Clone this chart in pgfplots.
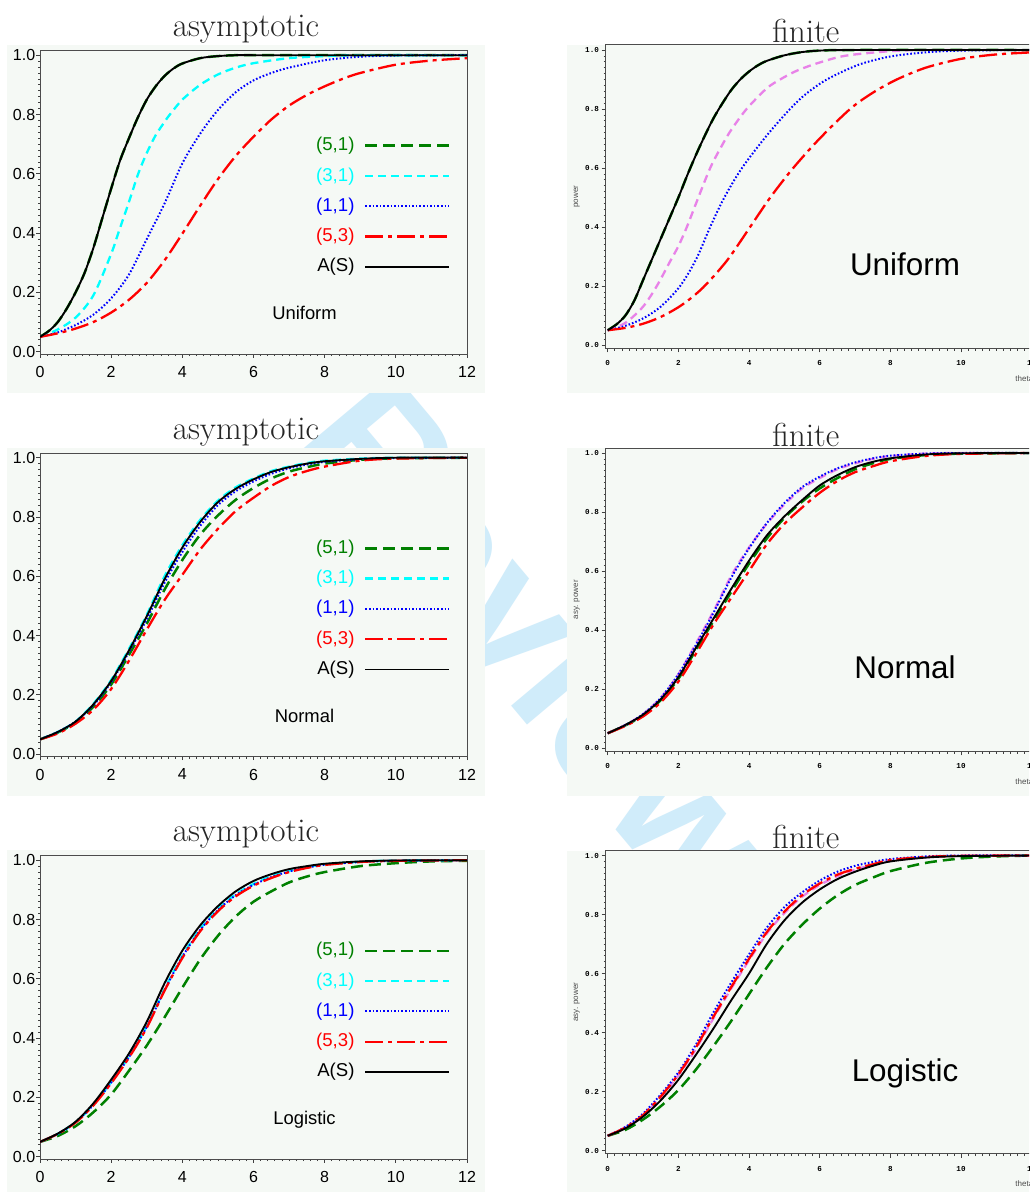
\documentclass[border=0pt]{standalone}
\usepackage{fontspec}
\usepackage{pgfplots}
\pgfplotsset{compat=1.18}
\newfontfamily\lsans{Liberation Sans}
\newfontfamily\lmono{Liberation Mono}
\definecolor{bgc}{RGB}{245,249,245}
\definecolor{sgreen}{RGB}{0,128,0}
\definecolor{scyan}{RGB}{0,255,255}
\definecolor{sblue}{RGB}{0,0,255}
\definecolor{sred}{RGB}{255,0,0}
\definecolor{sviolet}{RGB}{232,130,232}
\definecolor{wm}{RGB}{208,236,250}
\pgfplotsset{
  s51/.style={sgreen, line width=1.25pt, dash pattern=on 6pt off 3pt},
  s31/.style={scyan, line width=1.15pt, dash pattern=on 4pt off 2.5pt},
  s31f/.style={sviolet, line width=1.15pt, dash pattern=on 4pt off 2.5pt},
  s11/.style={sblue, line width=1pt, dash pattern=on 0.8pt off 1pt},
  s53/.style={sred, line width=1.15pt, dash pattern=on 9pt off 2.5pt on 2pt off 2.5pt},
  sAS/.style={black, line width=0.95pt},
  lax/.style={
    scale only axis, width=213.5pt, height=151.65pt,
    xmin=0, xmax=12, ymin=-0.0078, ymax=1.0152,
    xtick={0,2,4,6,8,10,12}, ytick={0,0.2,0.4,0.6,0.8,1},
    minor x tick num=9, minor y tick num=9,
    tick align=outside, tick pos=left,
    major tick length=1.8pt, minor tick length=1pt,
    every tick/.style={black!75, line width=0.4pt},
    axis line style={black!70, line width=0.5pt},
    /pgf/number format/assume math mode=true,
    tick label style={font=\lsans\fontsize{8}{9}\selectfont},
    yticklabel style={inner sep=0pt, xshift=-0.4pt, /pgf/number format/.cd, fixed, fixed zerofill, precision=1},
    xticklabel style={inner sep=0pt, yshift=-4.2pt},
    legend style={draw=none, fill=none, at={(0.9617,0.7163)}, anchor=north east,
      inner sep=0pt, outer sep=0pt, row sep=6.15pt, column sep=4.85pt,
      font=\lsans\fontsize{9.3}{10}\selectfont,
      nodes={inner sep=0pt, text height=7pt, text depth=2pt}},
    legend plot pos=right, legend cell align=right,
    legend image code/.code={\draw[##1] (0pt,0pt) -- (42pt,0pt);},
  },
  rax/.style={
    scale only axis, width=214pt, height=151.65pt,
    xmin=-0.057, xmax=12.057, ymin=-0.0112, ymax=1.017,
    xtick={0,2,4,6,8,10,12}, ytick={0,0.2,0.4,0.6,0.8,1},
    minor x tick num=9, minor y tick num=9,
    tick align=outside, tick pos=left,
    major tick length=2pt, minor tick length=1.1pt,
    every tick/.style={black!75, line width=0.35pt},
    axis line style={black!70, line width=0.5pt},
    /pgf/number format/assume math mode=true,
    tick label style={font=\lmono\bfseries\fontsize{3.8}{4.5}\selectfont},
    yticklabel style={inner sep=0pt, xshift=-1.2pt, /pgf/number format/.cd, fixed, fixed zerofill, precision=1},
    xticklabel style={inner sep=0pt, yshift=-4pt},
    xlabel={theta},
    x label style={at={(rel axis cs:0,0)}, anchor=west, xshift=204.65pt, yshift=-15pt,
      font=\lsans\fontsize{4}{5}\selectfont, text=black!70, inner sep=0pt},
    y label style={at={(rel axis cs:0,0.5)}, anchor=center, yshift=14.5pt,
      font=\lsans\fontsize{4}{5}\selectfont, text=black!70, inner sep=0pt},
  },
}
\begin{document}
\begin{tikzpicture}
\clip (0pt,0pt) rectangle (514.5pt,-596pt);
\useasboundingbox (0pt,0pt) rectangle (514.5pt,-596pt);
\fill[white] (0pt,0pt) rectangle (514.5pt,-596pt);
% watermark
\node[rotate=-50, text=wm, font=\lsans\bfseries\fontsize{90}{90}\selectfont] at (270pt,-320pt) {Review};
% panel backgrounds
\fill[bgc] (3.5pt,-22.5pt) rectangle (242.5pt,-196.5pt);
\fill[bgc] (3.5pt,-223.75pt) rectangle (242.5pt,-397.75pt);
\fill[bgc] (3.5pt,-425pt) rectangle (242.5pt,-599pt);
\fill[bgc] (283.5pt,-22.5pt) rectangle (520pt,-196.5pt);
\fill[bgc] (283.5pt,-224pt) rectangle (520pt,-398pt);
\fill[bgc] (283.5pt,-425.25pt) rectangle (520pt,-599pt);
% titles
\node[anchor=base, text=black!85, font=\fontsize{16.6}{20}\selectfont] at (123pt,-18.35pt) {asymptotic};
\node[anchor=base, text=black!85, font=\fontsize{16.6}{20}\selectfont] at (123pt,-219.65pt) {asymptotic};
\node[anchor=base, text=black!85, font=\fontsize{16.6}{20}\selectfont] at (123pt,-420.85pt) {asymptotic};
\node[anchor=base, text=black!85, font=\fontsize{16.6}{20}\selectfont] at (402.9pt,-21.35pt) {finite};
\node[anchor=base, text=black!85, font=\fontsize{16.6}{20}\selectfont] at (402.9pt,-223pt) {finite};
\node[anchor=base, text=black!85, font=\fontsize{16.6}{20}\selectfont] at (402.9pt,-424.15pt) {finite};

% ===== Row 1 left: Uniform asymptotic
\begin{axis}[lax, at={(20pt,-177pt)}, anchor=south west]
\addplot[s51, smooth, tension=0.5] coordinates {(0,0.05)(0.25,0.07)(0.5,0.1)(0.75,0.145)(1,0.2)(1.25,0.265)(1.5,0.35)(1.75,0.45)(2,0.55)(2.25,0.645)(2.5,0.72)(2.75,0.79)(3,0.85)(3.25,0.895)(3.5,0.93)(3.75,0.955)(4,0.972)(4.5,0.99)(5,0.997)(5.5,1.0)(6,1.0)(8,1.0)(10,1.0)(12,1.0)};
\addlegendentry{\textcolor{sgreen}{(5,1)}}
\addplot[s31, smooth, tension=0.5] coordinates {(0,0.05)(0.5,0.075)(1,0.115)(1.5,0.19)(2,0.33)(2.2,0.4)(2.5,0.505)(2.76,0.6)(3,0.67)(3.25,0.73)(3.5,0.775)(3.65,0.8)(4,0.85)(4.5,0.9)(5,0.935)(5.5,0.958)(6,0.973)(7,0.99)(8,0.997)(9,1.0)(12,1.0)};
\addlegendentry{\textcolor{scyan}{(3,1)}}
\addplot[s11, smooth, tension=0.5] coordinates {(0,0.05)(0.5,0.065)(1,0.09)(1.5,0.125)(2,0.18)(2.5,0.26)(3,0.38)(3.5,0.5)(4,0.635)(4.5,0.735)(5,0.815)(5.5,0.875)(6,0.915)(6.5,0.94)(7,0.958)(8,0.983)(9,0.995)(10,0.999)(12,1.0)};
\addlegendentry{\textcolor{sblue}{(1,1)}}
\addplot[s53, smooth, tension=0.5] coordinates {(0,0.05)(0.5,0.062)(1,0.078)(1.5,0.1)(2,0.132)(2.5,0.175)(3,0.232)(3.5,0.308)(4,0.398)(4.5,0.492)(5,0.582)(5.5,0.66)(6,0.725)(6.5,0.783)(7,0.83)(7.5,0.866)(8,0.895)(8.5,0.92)(9,0.94)(10,0.968)(11,0.982)(12,0.99)};
\addlegendentry{\textcolor{sred}{(5,3)}}
\addplot[sAS, smooth, tension=0.5] coordinates {(0,0.05)(0.25,0.07)(0.5,0.1)(0.75,0.145)(1,0.2)(1.25,0.265)(1.5,0.35)(1.75,0.45)(2,0.55)(2.25,0.645)(2.5,0.72)(2.75,0.79)(3,0.85)(3.25,0.895)(3.5,0.93)(3.75,0.955)(4,0.972)(4.5,0.99)(5,0.997)(5.5,1.0)(6,1.0)(8,1.0)(10,1.0)(12,1.0)};
\addlegendentry{A(S)}
\end{axis}

% ===== Row 1 right: Uniform finite
\begin{axis}[rax, at={(302.85pt,-174.15pt)}, anchor=south west, ylabel={power}]
\addplot[s51, smooth, tension=0.5] coordinates {(0,0.05)(0.25,0.07)(0.5,0.1)(0.75,0.15)(1,0.22)(1.25,0.29)(1.5,0.36)(1.75,0.43)(2,0.5)(2.25,0.575)(2.5,0.645)(2.75,0.71)(3,0.77)(3.25,0.82)(3.5,0.865)(3.75,0.9)(4,0.927)(4.25,0.948)(4.5,0.963)(5,0.982)(5.5,0.993)(6,0.998)(7,1.0)(12,1.0)};
\addplot[s31f, smooth, tension=0.5] coordinates {(0,0.05)(0.5,0.075)(1,0.13)(1.39,0.2)(1.75,0.28)(2,0.335)(2.24,0.4)(2.5,0.48)(2.9,0.6)(3.25,0.68)(3.5,0.73)(3.93,0.8)(4.5,0.87)(4.88,0.9)(5.3,0.927)(5.8,0.95)(6.5,0.975)(7,0.985)(8,0.996)(9,1.0)(12,1.0)};
\addplot[s11, smooth, tension=0.5] coordinates {(0,0.05)(0.5,0.065)(1,0.09)(1.5,0.13)(2.05,0.2)(2.5,0.29)(2.9,0.4)(3.3,0.5)(3.8,0.6)(4.5,0.71)(5.16,0.8)(5.6,0.85)(6.2,0.9)(7.1,0.95)(8,0.978)(9,0.992)(10,0.998)(12,1.0)};
\addplot[s53, smooth, tension=0.5] coordinates {(0,0.05)(0.5,0.058)(1,0.072)(1.5,0.095)(2,0.128)(2.4,0.163)(2.8,0.207)(3.4,0.29)(4.03,0.4)(4.6,0.5)(5.25,0.6)(6,0.7)(6.86,0.8)(7.5,0.855)(8.18,0.9)(9,0.94)(10,0.97)(11,0.985)(12,0.992)};
\addplot[sAS, smooth, tension=0.5] coordinates {(0,0.05)(0.25,0.07)(0.5,0.1)(0.75,0.15)(1,0.22)(1.25,0.29)(1.5,0.36)(1.75,0.43)(2,0.5)(2.25,0.575)(2.5,0.645)(2.75,0.71)(3,0.77)(3.25,0.82)(3.5,0.865)(3.75,0.9)(4,0.927)(4.25,0.948)(4.5,0.963)(5,0.982)(5.5,0.993)(6,0.998)(7,1.0)(12,1.0)};
\end{axis}

% ===== Row 2 left: Normal asymptotic
\begin{axis}[lax, at={(20pt,-378.25pt)}, anchor=south west]
\addplot[s51, smooth, tension=0.5] coordinates {(0,0.05)(0.5,0.073)(1,0.107)(1.5,0.16)(2,0.235)(2.5,0.335)(3,0.44)(3.5,0.555)(4,0.655)(4.5,0.74)(5,0.805)(5.5,0.858)(6,0.898)(6.5,0.93)(7,0.953)(7.5,0.968)(8,0.98)(9,0.993)(10,0.998)(12,1.0)};
\addlegendentry{\textcolor{sgreen}{(5,1)}}
\addplot[s31, smooth, tension=0.5] coordinates {(0,0.05)(0.5,0.075)(1,0.11)(1.5,0.17)(2,0.25)(2.5,0.355)(3,0.47)(3.5,0.6)(4,0.705)(4.5,0.79)(5,0.855)(5.5,0.9)(6,0.93)(6.5,0.955)(7,0.97)(7.5,0.982)(8,0.99)(9,0.997)(10,1.0)(12,1.0)};
\addlegendentry{\textcolor{scyan}{(3,1)}}
\addplot[s11, smooth, tension=0.5] coordinates {(0,0.05)(0.5,0.075)(1,0.11)(1.5,0.165)(2,0.243)(2.5,0.345)(3,0.455)(3.5,0.578)(4,0.682)(4.5,0.77)(5,0.84)(5.5,0.887)(6,0.92)(6.5,0.946)(7,0.964)(7.5,0.977)(8,0.986)(9,0.995)(10,0.999)(12,1.0)};
\addlegendentry{\textcolor{sblue}{(1,1)}}
\addplot[s53, smooth, tension=0.5] coordinates {(0,0.05)(0.5,0.07)(1,0.103)(1.5,0.15)(2,0.22)(2.5,0.315)(3,0.42)(3.5,0.52)(4,0.605)(4.5,0.69)(5,0.76)(5.5,0.82)(6,0.865)(6.5,0.905)(7,0.935)(7.5,0.955)(8,0.97)(9,0.99)(10,0.997)(12,1.0)};
\addlegendentry{\textcolor{sred}{(5,3)}}
\addplot[sAS, smooth, tension=0.5] coordinates {(0,0.05)(0.5,0.075)(1,0.11)(1.5,0.168)(2,0.247)(2.5,0.35)(3,0.465)(3.5,0.59)(4,0.697)(4.5,0.783)(5,0.85)(5.5,0.895)(6,0.927)(6.5,0.952)(7,0.968)(7.5,0.98)(8,0.988)(9,0.996)(10,1.0)(12,1.0)};
\addlegendentry{A(S)}
\end{axis}

% ===== Row 2 right: Normal finite
\begin{axis}[rax, at={(302.85pt,-375.65pt)}, anchor=south west, ylabel={asy. power}]
\addplot[s51, smooth, tension=0.5] coordinates {(0,0.05)(0.5,0.077)(1,0.11)(1.5,0.162)(2,0.235)(2.5,0.333)(3,0.432)(3.5,0.53)(4,0.625)(4.5,0.71)(5,0.78)(5.5,0.835)(6,0.88)(6.5,0.915)(7,0.945)(7.5,0.965)(8,0.98)(9,0.993)(10,0.998)(12,1.0)};
\addplot[s31f, smooth, tension=0.5] coordinates {(0,0.05)(0.5,0.078)(1,0.115)(1.5,0.17)(2,0.25)(2.5,0.355)(3,0.465)(3.5,0.585)(4,0.68)(4.5,0.76)(5,0.825)(5.5,0.88)(6,0.915)(6.5,0.945)(7,0.965)(7.5,0.98)(8,0.99)(9,0.998)(10,1.0)(12,1.0)};
\addplot[s11, smooth, tension=0.5] coordinates {(0,0.05)(0.5,0.078)(1,0.115)(1.5,0.17)(2,0.25)(2.5,0.35)(3,0.46)(3.5,0.578)(4,0.677)(4.5,0.762)(5,0.83)(5.5,0.884)(6,0.92)(6.5,0.948)(7,0.968)(7.5,0.982)(8,0.991)(9,0.998)(10,1.0)(12,1.0)};
\addplot[s53, smooth, tension=0.5] coordinates {(0,0.05)(0.5,0.075)(1,0.107)(1.5,0.155)(2,0.225)(2.5,0.32)(3,0.42)(3.5,0.51)(4,0.6)(4.5,0.69)(5,0.76)(5.5,0.815)(6,0.865)(6.5,0.905)(7,0.935)(7.5,0.955)(8,0.972)(9,0.99)(10,0.997)(12,1.0)};
\addplot[sAS, smooth, tension=0.5] coordinates {(0,0.05)(0.5,0.078)(1,0.113)(1.5,0.165)(2,0.24)(2.5,0.34)(3,0.44)(3.5,0.54)(4,0.635)(4.5,0.72)(5,0.785)(5.5,0.84)(6,0.89)(6.5,0.925)(7,0.952)(7.5,0.97)(8,0.982)(9,0.995)(10,0.999)(12,1.0)};
\end{axis}

% ===== Row 3 left: Logistic asymptotic
\begin{axis}[lax, at={(20pt,-579.5pt)}, anchor=south west]
\addplot[s51, smooth, tension=0.5] coordinates {(0,0.05)(0.5,0.07)(1,0.103)(1.5,0.15)(2,0.21)(2.5,0.29)(3,0.375)(3.5,0.47)(4,0.57)(4.5,0.665)(5,0.745)(5.5,0.81)(6,0.86)(6.5,0.895)(7,0.925)(7.5,0.945)(8,0.96)(9,0.98)(10,0.99)(11,0.996)(12,0.998)};
\addlegendentry{\textcolor{sgreen}{(5,1)}}
\addplot[s31, smooth, tension=0.5] coordinates {(0,0.05)(0.5,0.077)(1,0.116)(1.5,0.175)(2,0.252)(2.5,0.338)(3,0.44)(3.5,0.565)(4,0.678)(4.5,0.768)(5,0.835)(5.5,0.885)(6,0.92)(6.5,0.946)(7,0.964)(7.5,0.977)(8,0.986)(9,0.995)(10,0.999)(12,1.0)};
\addlegendentry{\textcolor{scyan}{(3,1)}}
\addplot[s11, smooth, tension=0.5] coordinates {(0,0.05)(0.5,0.077)(1,0.116)(1.5,0.175)(2,0.25)(2.5,0.336)(3,0.438)(3.5,0.562)(4,0.674)(4.5,0.764)(5,0.832)(5.5,0.882)(6,0.917)(6.5,0.943)(7,0.962)(7.5,0.975)(8,0.985)(9,0.994)(10,0.998)(12,1.0)};
\addlegendentry{\textcolor{sblue}{(1,1)}}
\addplot[s53, smooth, tension=0.5] coordinates {(0,0.05)(0.5,0.077)(1,0.115)(1.5,0.173)(2,0.248)(2.5,0.334)(3,0.435)(3.5,0.56)(4,0.67)(4.5,0.76)(5,0.828)(5.5,0.878)(6,0.914)(6.5,0.94)(7,0.96)(7.5,0.974)(8,0.984)(9,0.994)(10,0.998)(12,1.0)};
\addlegendentry{\textcolor{sred}{(5,3)}}
\addplot[sAS, smooth, tension=0.5] coordinates {(0,0.05)(0.5,0.078)(1,0.118)(1.5,0.18)(2,0.26)(2.5,0.348)(3,0.455)(3.5,0.585)(4,0.695)(4.5,0.78)(5,0.845)(5.5,0.895)(6,0.93)(6.5,0.953)(7,0.97)(7.5,0.98)(8,0.988)(9,0.996)(10,0.999)(12,1.0)};
\addlegendentry{A(S)}
\end{axis}

% ===== Row 3 right: Logistic finite
\begin{axis}[rax, at={(302.85pt,-576.9pt)}, anchor=south west, ylabel={asy. power}]
\addplot[s51, smooth, tension=0.5] coordinates {(0,0.05)(0.5,0.07)(1,0.105)(1.5,0.15)(2,0.205)(2.5,0.275)(3,0.355)(3.5,0.44)(4,0.53)(4.5,0.62)(5,0.7)(5.5,0.765)(6,0.82)(6.5,0.865)(7,0.9)(7.5,0.925)(8,0.947)(9,0.975)(10,0.99)(11,0.997)(12,1.0)};
\addplot[s31f, smooth, tension=0.5] coordinates {(0,0.05)(0.5,0.078)(1,0.119)(1.5,0.18)(2,0.255)(2.5,0.345)(3,0.45)(3.5,0.55)(4,0.645)(4.5,0.735)(5,0.805)(5.5,0.86)(6,0.9)(6.5,0.93)(7,0.952)(7.5,0.968)(8,0.982)(9,0.994)(10,0.999)(12,1.0)};
\addplot[s11, smooth, tension=0.5] coordinates {(0,0.05)(0.5,0.08)(1,0.125)(1.5,0.19)(2,0.265)(2.5,0.36)(3,0.47)(3.5,0.57)(4,0.665)(4.5,0.755)(5,0.825)(5.5,0.875)(6,0.915)(6.5,0.945)(7,0.965)(7.5,0.978)(8,0.988)(9,0.997)(10,1.0)(12,1.0)};
\addplot[s53, smooth, tension=0.5] coordinates {(0,0.05)(0.5,0.078)(1,0.12)(1.5,0.183)(2,0.258)(2.5,0.35)(3,0.455)(3.5,0.555)(4,0.65)(4.5,0.74)(5,0.81)(5.5,0.865)(6,0.905)(6.5,0.935)(7,0.955)(7.5,0.97)(8,0.985)(9,0.995)(10,0.999)(12,1.0)};
\addplot[sAS, smooth, tension=0.5] coordinates {(0,0.05)(0.5,0.075)(1,0.115)(1.5,0.17)(2,0.24)(2.5,0.325)(3,0.415)(3.5,0.51)(4,0.6)(4.5,0.7)(5,0.78)(5.5,0.84)(6,0.885)(6.5,0.92)(7,0.945)(7.5,0.965)(8,0.98)(9,0.993)(10,0.998)(12,1.0)};
\end{axis}

% distribution labels
\node[anchor=base, font=\lsans\fontsize{9.2}{11}\selectfont] at (152.25pt,-159.65pt) {Uniform};
\node[anchor=base, font=\lsans\fontsize{9.2}{11}\selectfont] at (152.25pt,-361.35pt) {Normal};
\node[anchor=base, font=\lsans\fontsize{9.2}{11}\selectfont] at (152.25pt,-562.15pt) {Logistic};
\node[anchor=base, font=\lsans\fontsize{15.7}{18}\selectfont] at (452.5pt,-138pt) {Uniform};
\node[anchor=base, font=\lsans\fontsize{15.7}{18}\selectfont] at (452.5pt,-339.15pt) {Normal};
\node[anchor=base, font=\lsans\fontsize{15.7}{18}\selectfont] at (452.5pt,-540.85pt) {Logistic};
\end{tikzpicture}
\end{document}
